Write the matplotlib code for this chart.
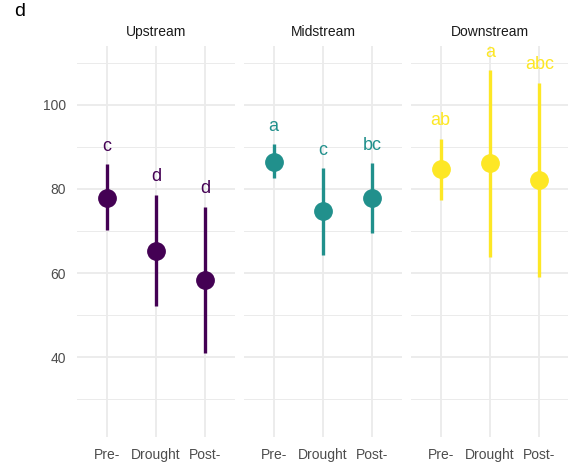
import matplotlib
matplotlib.use("Agg")
import matplotlib.pyplot as plt
from matplotlib.ticker import MultipleLocator

plt.rcParams['font.family'] = ['Liberation Sans', 'DejaVu Sans']

sites = ["Upstream", "Midstream", "Downstream"]
periods = ["Pre-", "Drought", "Post-"]
colors = ["#440154", "#21908C", "#FDE725"]

# means and error bar limits
means = [[77.9, 65.2, 58.4],
         [86.5, 74.8, 77.9],
         [84.7, 86.1, 82.1]]
lower = [[70.2, 52.1, 41.0],
         [82.5, 64.4, 69.6],
         [77.4, 63.9, 59.1]]
upper = [[85.9, 78.6, 75.8],
         [90.6, 84.9, 86.1],
         [91.9, 108.2, 105.2]]
letters = [["c", "d", "d"],
           ["a", "c", "bc"],
           ["ab", "a", "abc"]]

fig = plt.figure(figsize=(5.68, 4.65), dpi=100)

W, H = 568, 465
lefts = [77, 244, 411]
pw = 158
top_px, bot_px = 46, 437

for i, site in enumerate(sites):
    ax = fig.add_axes([lefts[i] / W, 1 - bot_px / H, pw / W, (bot_px - top_px) / H])
    x = range(len(periods))
    for j in x:
        ax.plot([j, j], [lower[i][j], upper[i][j]], color=colors[i], lw=2.4,
                solid_capstyle='butt', zorder=3)
        ax.text(j, upper[i][j] + 4.3, letters[i][j], color=colors[i],
                fontsize=13, ha='center', va='center', zorder=4)
    ax.plot(list(x), means[i], 'o', color=colors[i], markersize=12.5,
            linestyle='none', zorder=4)

    ax.set_xlim(-0.6, 2.6)
    ax.set_ylim(21, 114)
    ax.set_xticks(list(x))
    ax.set_xticklabels(periods)
    ax.yaxis.set_major_locator(MultipleLocator(20))
    ax.yaxis.set_minor_locator(MultipleLocator(10))
    ax.set_yticks([40, 60, 80, 100])
    ax.grid(which='major', color='#ebebeb', lw=1.3)
    ax.grid(which='minor', axis='y', color='#ebebeb', lw=0.7)
    ax.set_axisbelow(True)
    for s in ax.spines.values():
        s.set_visible(False)
    ax.tick_params(which='both', length=0, labelsize=10, colors='#4d4d4d', pad=8)
    if i > 0:
        ax.tick_params(axis='y', labelleft=False)
    ax.set_title(site, fontsize=10, color='#1a1a1a', pad=7)

fig.text(14 / W, 1 - 11 / H, "d", fontsize=14, ha='left', va='center')

fig.savefig("out.png", dpi=100)
